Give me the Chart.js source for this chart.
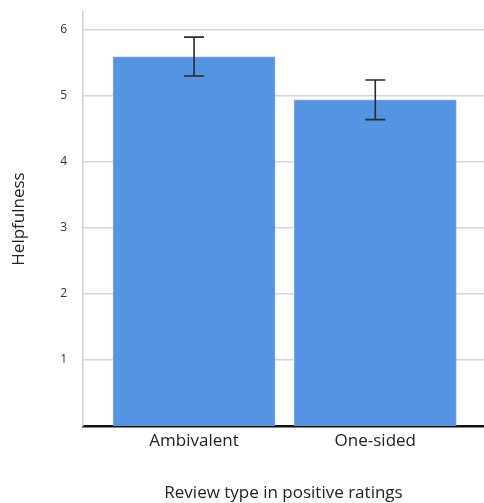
<!DOCTYPE html>
<html>
<head>
<meta charset="utf-8">
<script src="https://cdn.jsdelivr.net/npm/chart.js@4.4.1/dist/chart.umd.min.js"></script>
<style>
  html, body { margin: 0; padding: 0; background: #fff; }
  #wrap { width: 484px; height: 503px; }
</style>
</head>
<body>
<div id="wrap"><canvas id="chart"></canvas></div>
<script>
// ─── DATA ─────────────────────────────────────────────────────────────
const categories = ['Ambivalent', 'One-sided'];
const means      = [5.59, 4.94];
const errLow     = [5.30, 4.64];
const errHigh    = [5.89, 5.24];
const yTicks     = [1, 2, 3, 4, 5, 6];

// ─── ERROR BARS (drawn via scales) ────────────────────────────────────
const errorBars = {
    id: 'errorBars',
    afterDatasetsDraw(chart) {
        const { ctx, scales: { x, y } } = chart;
        ctx.save();
        ctx.strokeStyle = '#2b2b2b';
        ctx.lineWidth = 1.6;
        categories.forEach((c, i) => {
            const px = x.getPixelForValue(i + 1);
            const top = y.getPixelForValue(errHigh[i]);
            const bot = y.getPixelForValue(errLow[i]);
            const cap = 10;
            ctx.beginPath();
            ctx.moveTo(px, top); ctx.lineTo(px, bot);
            ctx.moveTo(px - cap, top); ctx.lineTo(px + cap, top);
            ctx.moveTo(px - cap, bot); ctx.lineTo(px + cap, bot);
            ctx.stroke();
        });
        ctx.restore();
    }
};

const font = "'Open Sans', 'Noto Sans', sans-serif";

new Chart(document.getElementById('chart'), {
    type: 'bar',
    data: {
        datasets: [{
            data: categories.map((c, i) => ({ x: i + 1, y: means[i] })),
            backgroundColor: '#5593e3',
            borderColor: '#7aaaf0',
            borderWidth: 1,
            barThickness: 162
        }]
    },
    options: {
        responsive: true,
        maintainAspectRatio: false,
        animation: false,
        layout: { padding: { top: 12, right: 0, left: 0, bottom: 0 } },
        plugins: { legend: { display: false }, tooltip: { enabled: false } },
        scales: {
            x: {
                type: 'linear',
                offset: false,
                min: 0.387,
                max: 2.6,
                afterFit: s => { s.height = 77; s.paddingLeft = 0; s.paddingRight = 0; },
                afterBuildTicks: s => { s.ticks = categories.map((c, i) => ({ value: i + 1 })); },
                grid: { display: false, drawTicks: false },
                border: { color: '#111', width: 2.5 },
                ticks: {
                    padding: 5,
                    color: '#222',
                    font: { family: font, size: 17 },
                    callback: v => categories[v - 1]
                },
                title: {
                    display: true,
                    text: 'Review type in positive ratings',
                    color: '#222',
                    font: { family: font, size: 17 },
                    padding: { top: 0, bottom: 0 }
                }
            },
            y: {
                min: 0,
                max: 6.27,
                afterFit: s => { s.width = 83; s.paddingTop = 0; s.paddingBottom = 0; },
                afterBuildTicks: s => { s.ticks = yTicks.map(v => ({ value: v })); },
                grid: { color: '#d6d6d6', lineWidth: 1.5, drawTicks: false },
                border: { color: '#cfcfcf', width: 1.5 },
                ticks: {
                    padding: 16,
                    color: '#333',
                    font: { family: font, size: 12 }
                },
                title: {
                    display: true,
                    text: 'Helpfulness',
                    color: '#222',
                    font: { family: font, size: 17 },
                    padding: { top: 9, bottom: 0 }
                }
            }
        }
    },
    plugins: [errorBars]
});
</script>
</body>
</html>
